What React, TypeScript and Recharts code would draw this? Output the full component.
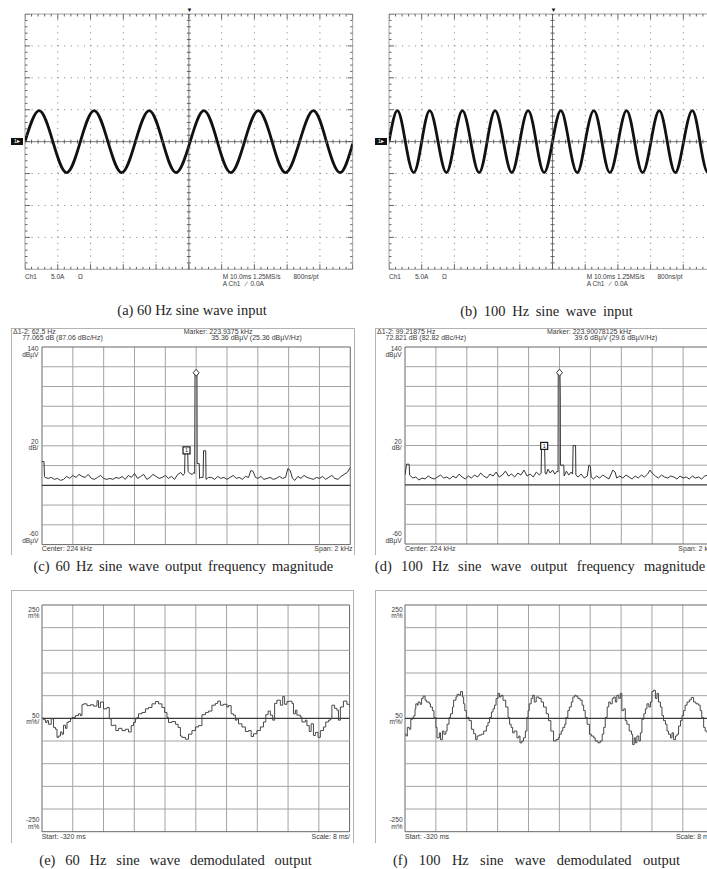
import React from 'react';
import { ComposedChart, Line, XAxis, YAxis, ReferenceLine, ReferenceDot, Scatter } from 'recharts';

type Pt = [number, number];

// ---------- (a) 60 Hz input: [time ms, current A] (peaks / zero crossings)
const scopeA: Pt[] = [
  [-50.0, 0], [-45.7, 4.85], [-41.5, 0], [-37.3, -4.85], [-33.1, 0], [-28.9, 4.85], [-24.7, 0],
  [-20.5, -4.85], [-16.3, 0], [-12.1, 4.85], [-8.0, 0], [-3.9, -4.85], [0.4, 0], [4.6, 4.85],
  [8.7, 0], [12.8, -4.85], [17.0, 0], [21.2, 4.85], [25.4, 0], [29.5, -4.85], [33.8, 0],
  [38.0, 4.85], [42.0, 0], [46.1, -4.85], [50.0, -0.3],
];

// ---------- (b) 100 Hz input
const scopeB: Pt[] = [
  [-50, 0], [-47.45, 4.85], [-45.0, 0], [-42.45, -4.85], [-40.0, 0], [-37.55, 4.85], [-35.0, 0],
  [-32.45, -4.85], [-30.0, 0], [-27.55, 4.85], [-25.0, 0], [-22.45, -4.85], [-20.0, 0], [-17.55, 4.85],
  [-15.0, 0], [-12.45, -4.85], [-10.0, 0], [-7.45, 4.85], [-5.0, 0], [-2.55, -4.85], [0.0, 0],
  [2.55, 4.85], [5.0, 0], [7.55, -4.85], [10.0, 0], [12.65, 4.85], [15.1, 0], [17.55, -4.85],
  [20.1, 0], [22.65, 4.85], [25.1, 0], [27.55, -4.85], [30.1, 0], [32.65, 4.85], [35.1, 0],
  [37.55, -4.85], [40.1, 0], [42.75, 4.85], [45.1, 0], [47.55, -4.85], [50.0, 0],
];

// ---------- (c) spectrum 60 Hz: [kHz, dBuV]
const specC: Pt[] = [
  [223.0, 24], [223.013, 24], [223.016, 9], [223.02, 8], [223.04, 7], [223.06, 8], [223.08, 6],
  [223.1, 7], [223.12, 5], [223.14, 6], [223.16, 9], [223.18, 7], [223.2, 10], [223.22, 8],
  [223.24, 11], [223.26, 9], [223.28, 8], [223.3, 11], [223.32, 7], [223.34, 6], [223.36, 8],
  [223.38, 10], [223.4, 7], [223.42, 6], [223.44, 7], [223.46, 6], [223.48, 8], [223.5, 7],
  [223.52, 9], [223.54, 6], [223.56, 10], [223.58, 8], [223.6, 12], [223.62, 7], [223.64, 9],
  [223.66, 11], [223.68, 6], [223.7, 8], [223.72, 11], [223.74, 9], [223.76, 7], [223.78, 8],
  [223.8, 10], [223.82, 7], [223.84, 9], [223.86, 6], [223.88, 11], [223.9, 13], [223.915, 10],
  [223.925, 12], [223.928, 35.4], [223.945, 35.4], [223.948, 14], [223.96, 12], [223.975, 11],
  [223.985, 13], [223.9905, 12], [223.9925, 112.4], [224.0055, 112.4], [224.0065, 22], [224.02, 22],
  [224.022, 7], [224.03, 8], [224.045, 8], [224.048, 35], [224.062, 35], [224.064, 6], [224.08, 8],
  [224.1, 8], [224.12, 6], [224.14, 9], [224.16, 7], [224.18, 8], [224.2, 6], [224.22, 8],
  [224.24, 10], [224.26, 7], [224.28, 8], [224.3, 6], [224.32, 9], [224.34, 8], [224.355, 15],
  [224.37, 14], [224.385, 8], [224.4, 7], [224.42, 9], [224.44, 6], [224.46, 7], [224.48, 8],
  [224.5, 6], [224.52, 7], [224.54, 9], [224.56, 7], [224.58, 8], [224.595, 17], [224.61, 15],
  [224.625, 7], [224.64, 5], [224.66, 9], [224.68, 7], [224.7, 10], [224.72, 8], [224.74, 7],
  [224.76, 6], [224.78, 8], [224.8, 7], [224.82, 9], [224.84, 6], [224.86, 8], [224.88, 10],
  [224.9, 7], [224.92, 6], [224.94, 9], [224.96, 11], [224.98, 13], [225.0, 18],
];

// ---------- (d) spectrum 100 Hz
const specD: Pt[] = [
  [223.0, 10], [223.01, 21], [223.027, 21], [223.03, 10], [223.05, 7], [223.07, 8], [223.09, 5],
  [223.11, 7], [223.13, 6], [223.15, 9], [223.17, 7], [223.19, 6], [223.21, 8], [223.23, 10],
  [223.25, 7], [223.27, 8], [223.29, 6], [223.31, 9], [223.33, 7], [223.35, 11], [223.37, 8],
  [223.39, 6], [223.41, 9], [223.43, 7], [223.45, 10], [223.47, 8], [223.49, 12], [223.51, 9],
  [223.53, 7], [223.55, 11], [223.57, 9], [223.59, 13], [223.61, 8], [223.63, 10], [223.65, 14],
  [223.67, 9], [223.69, 11], [223.71, 8], [223.73, 12], [223.75, 10], [223.77, 15], [223.79, 9],
  [223.81, 11], [223.83, 8], [223.85, 13], [223.87, 10], [223.881, 12], [223.884, 39.6],
  [223.904, 36], [223.907, 12], [223.915, 11], [223.925, 16], [223.94, 12], [223.955, 15],
  [223.97, 11], [223.985, 14], [223.9905, 13], [223.992, 112.4], [224.003, 112.4], [224.005, 92],
  [224.006, 20], [224.028, 20], [224.03, 9], [224.045, 14], [224.06, 10], [224.075, 13],
  [224.085, 11], [224.088, 40], [224.104, 40], [224.106, 10], [224.12, 8], [224.14, 11],
  [224.16, 7], [224.18, 9], [224.19, 20], [224.2, 19], [224.205, 8], [224.22, 6], [224.24, 9],
  [224.26, 7], [224.28, 10], [224.3, 8], [224.32, 6], [224.345, 15], [224.36, 13], [224.37, 7],
  [224.39, 9], [224.41, 7], [224.43, 10], [224.45, 8], [224.47, 6], [224.49, 9], [224.51, 7],
  [224.53, 10], [224.55, 8], [224.57, 11], [224.585, 15], [224.6, 12], [224.62, 9], [224.64, 7],
  [224.66, 10], [224.68, 8], [224.7, 7], [224.72, 9], [224.74, 8], [224.76, 6], [224.78, 9],
  [224.8, 7], [224.82, 8], [224.84, 6], [224.86, 9], [224.88, 7], [224.9, 8], [224.92, 6],
  [224.94, 9], [224.96, 10], [224.98, 8], [225.0, 11],
];

// ---------- (e) demodulated 60 Hz: [ms, m%]
const demodE: Pt[] = [
  [-320.0, 0], [-319.6, -3], [-319.1, -9], [-318.7, -5], [-318.3, -13], [-317.6, -1], [-317.0, -20],
  [-316.5, -24], [-316.1, -42], [-315.7, -39], [-315.2, -30], [-314.8, -35], [-314.4, -15], [-313.9, -22],
  [-313.5, -9], [-313.1, -7], [-312.6, -1], [-312.2, 2], [-311.3, 6], [-310.5, 10], [-310.0, 6],
  [-309.6, 30], [-309.2, 32], [-308.3, 28], [-307.4, 30], [-306.6, 27], [-305.7, 39], [-305.3, 24],
  [-304.8, 36], [-304.0, 21], [-303.1, 24], [-302.5, -1], [-302.0, -16], [-301.4, -15], [-300.8, -27],
  [-300.1, -22], [-299.2, -27], [-298.3, -24], [-297.5, -30], [-296.8, -16], [-296.2, -9], [-295.7, -1],
  [-295.3, 2], [-294.9, 10], [-294.0, 13], [-293.1, 21], [-292.3, 24], [-291.4, 32], [-290.5, 37],
  [-289.7, 32], [-288.8, 24], [-288.1, 13], [-287.5, 2], [-287.1, -9], [-286.2, -7], [-285.3, -13],
  [-284.6, -20], [-284.0, -39], [-283.6, -42], [-282.7, -46], [-281.9, -35], [-281.0, -27], [-280.1, -19],
  [-279.3, -16], [-278.4, 8], [-277.5, 13], [-276.7, 16], [-275.8, 29], [-274.9, 33], [-274.3, 38],
  [-273.6, 29], [-272.8, 31], [-271.9, 25], [-271.5, 28], [-270.8, 10], [-270.2, 7], [-269.7, -4],
  [-269.3, -1], [-268.9, -12], [-268.0, -19], [-267.1, -29], [-266.3, -27], [-265.6, -40], [-265.0, -34],
  [-264.1, -27], [-263.2, -19], [-262.4, -8], [-261.8, 8], [-261.2, 16], [-260.6, 7], [-260.0, -4],
  [-259.5, 33], [-258.9, 40], [-258.0, 29], [-257.4, 48], [-256.9, 31], [-256.3, 37], [-255.6, 38],
  [-255.0, 33], [-254.6, 10], [-254.1, 18], [-253.7, 7], [-252.8, 3], [-252.4, -8], [-251.5, -4],
  [-251.1, -16], [-250.5, -29], [-250.0, -12], [-249.4, -38], [-248.9, -31], [-248.2, -42], [-247.6, -27],
  [-246.8, -19], [-246.2, -8], [-245.5, -4], [-245.0, -1], [-244.6, 29], [-243.9, 22], [-243.3, 18],
  [-242.9, -4], [-242.4, 25], [-241.6, 38], [-240.7, 31], [-240.0, 25],
];

// ---------- (f) demodulated 100 Hz
const demodF: Pt[] = [
  [-320.0, -35], [-319.7, -39], [-319.4, -20], [-318.9, -24], [-318.5, -2], [-318.0, 2], [-317.7, 6],
  [-317.4, 21], [-317.2, 32], [-316.8, 29], [-316.6, 36], [-316.1, 31], [-315.7, 44], [-315.3, 49],
  [-314.8, 40], [-314.4, 36], [-313.7, 32], [-313.4, 25], [-312.9, 17], [-312.5, 2], [-312.0, -20],
  [-311.7, -43], [-311.1, -32], [-310.8, -47], [-310.3, -28], [-309.9, -35], [-309.4, -28], [-309.1, -13],
  [-308.6, 2], [-308.2, 10], [-307.7, 25], [-307.4, 40], [-306.8, 47], [-306.5, 53], [-306.0, 51],
  [-305.6, 59], [-305.1, 47], [-304.8, 32], [-304.5, 17], [-304.1, 2], [-303.4, -5], [-302.8, -24],
  [-302.2, -34], [-301.7, -47], [-301.3, -39], [-300.8, -37], [-300.2, -35], [-299.6, -28], [-298.9, -17],
  [-298.5, -9], [-298.1, 2], [-297.6, 14], [-297.2, 21], [-296.8, 29], [-296.4, 44], [-295.9, 55],
  [-295.5, 47], [-295.1, 51], [-294.6, 40], [-293.9, 25], [-293.3, 2], [-292.9, -13], [-292.5, -20],
  [-292.1, -32], [-291.7, -28], [-291.0, -43], [-290.5, -39], [-290.2, -54], [-289.7, -50], [-289.3, -43],
  [-288.8, -28], [-288.4, 2], [-288.1, 17], [-287.8, 32], [-287.3, 44], [-286.9, 51], [-286.5, 36],
  [-286.0, 47], [-285.3, 44], [-284.7, 36], [-284.1, 25], [-283.4, 10], [-282.8, -5], [-282.2, -28],
  [-281.5, -50], [-280.9, -47], [-280.3, -43], [-280.0, -35], [-279.5, -28], [-279.1, -20], [-278.6, -13],
  [-278.3, 2], [-277.8, 17], [-277.4, 25], [-276.9, 36], [-276.5, 47], [-276.0, 51], [-275.7, 49],
  [-275.2, 44], [-274.6, 40], [-274.1, 29], [-273.7, 17], [-273.3, 2], [-272.8, -13], [-272.2, -35],
  [-271.7, -39], [-271.1, -43], [-270.7, -50], [-270.0, -54], [-269.4, -50], [-268.9, -35], [-268.5, -20],
  [-268.1, 2], [-267.6, 25], [-267.2, 36], [-266.8, 32], [-266.3, 44], [-265.9, 47], [-265.5, 36],
  [-265.1, 51], [-264.6, 44], [-264.2, 55], [-263.8, 17], [-263.3, 21], [-262.9, -5], [-262.5, -13],
  [-261.9, -28], [-261.3, -35], [-261.0, -58], [-260.6, -43], [-260.3, -54], [-259.9, -39], [-259.4, -50],
  [-259.0, -32], [-258.6, -2], [-258.1, 10], [-257.7, 21], [-257.3, 32], [-256.8, 25], [-256.4, 36],
  [-256.0, 59], [-255.6, 62], [-255.1, 44], [-254.7, 55], [-254.3, 36], [-253.8, 25], [-253.4, 6],
  [-253.0, -5], [-252.5, -13], [-252.1, -28], [-251.7, -35], [-251.2, -43], [-250.8, -32], [-250.4, -47],
  [-249.9, -39], [-249.5, -35], [-249.1, -17], [-248.6, -5], [-248.2, 6], [-247.8, 17], [-247.4, 29],
  [-246.9, 36], [-246.3, 41], [-245.8, 46], [-245.2, 36], [-244.6, 32], [-243.9, 29], [-243.5, 17],
  [-243.1, 2], [-242.6, -20], [-242.2, -28], [-241.7, -32], [-240.9, -40], [-240.0, -44],
];

// ---------- axes / grid divisions
const scopeDivT = [-50, -40, -30, -20, -10, 0, 10, 20, 30, 40, 50];
const scopeDivV = [-20, -15, -10, -5, 0, 5, 10, 15, 20];
const specDivF = [223, 223.2, 223.4, 223.6, 223.8, 224, 224.2, 224.4, 224.6, 224.8, 225];
const specDivDb = [-60, -40, -20, 0, 20, 40, 60, 80, 100, 120, 140];
const demodDivT = [-320, -312, -304, -296, -288, -280, -272, -264, -256, -248, -240];
const demodDivV = [-250, -200, -150, -100, -50, 0, 50, 100, 150, 200, 250];

const scopeMinorT = Array.from({ length: 51 }, (_, i) => -50 + 2 * i);
const scopeMinorV = Array.from({ length: 41 }, (_, i) => -20 + i);

const scopeTicks = [
  ...scopeMinorT.map((t) => ({ x: t, y: 20, k: 'top', m: t % 10 === 0 })),
  ...scopeMinorT.map((t) => ({ x: t, y: -20, k: 'bottom', m: t % 10 === 0 })),
  ...scopeMinorV.map((v) => ({ x: -50, y: v, k: 'left', m: v % 5 === 0 })),
  ...scopeMinorV.map((v) => ({ x: 50, y: v, k: 'right', m: v % 5 === 0 })),
  ...scopeMinorT.map((t) => ({ x: t, y: 0, k: 'ch', m: false })),
  ...scopeMinorV.map((v) => ({ x: 0, y: v, k: 'cv', m: false })),
];

const toXY = (pts: Pt[]) => pts.map(([x, y]) => ({ x, y }));

const SANS = '"Liberation Sans", Arial, sans-serif';
const SERIF = '"Liberation Serif", "Times New Roman", serif';

function T({ x, y, children, size = 7, align = 'left', font = SANS, color = '#3a3a3a', ws = 0 }: any) {
  const style: React.CSSProperties = {
    position: 'absolute',
    top: y - size * 0.55,
    fontSize: size,
    lineHeight: `${size * 1.1}px`,
    fontFamily: font,
    color,
    whiteSpace: 'pre',
    wordSpacing: ws,
  };
  if (align === 'left') style.left = x;
  else if (align === 'right') style.right = 707 - x;
  else {
    style.left = x - 300;
    style.width = 600;
    style.textAlign = 'center';
  }
  return <div style={style}>{children}</div>;
}

function Panel({ left, top, width, height, xDomain, yDomain, elements }: any) {
  const M = 4;
  return (
    <div style={{ position: 'absolute', left: left - M, top: top - M, width: width + 2 * M, height: height + 2 * M }}>
      <ComposedChart width={width + 2 * M} height={height + 2 * M} margin={{ top: M, right: M, bottom: M, left: M }}>
        <XAxis type="number" dataKey="x" domain={xDomain} allowDataOverflow hide />
        <YAxis type="number" dataKey="y" domain={yDomain} allowDataOverflow hide />
        {elements}
      </ComposedChart>
    </div>
  );
}

function tickShape(p: any) {
  const { cx, cy, payload } = p;
  const k = payload.k;
  const L = payload.m ? 5 : 2.5;
  let x1 = cx, y1 = cy, x2 = cx, y2 = cy;
  if (k === 'top') y2 = cy + L;
  else if (k === 'bottom') y2 = cy - L;
  else if (k === 'left') x2 = cx + L;
  else if (k === 'right') x2 = cx - L;
  else if (k === 'ch') { y1 = cy - 2; y2 = cy + 2; }
  else { x1 = cx - 2; x2 = cx + 2; }
  return <line x1={x1} y1={y1} x2={x2} y2={y2} stroke="#555" strokeWidth={0.9} />;
}

function scopeEls(id: string, data: Pt[], dotH: number, dotV: number) {
  const els: React.ReactNode[] = [];
  scopeDivT.forEach((t) => {
    if (t === 0 || t === -50 || t === 50) return;
    els.push(<ReferenceLine key={`${id}gx${t}`} x={t} stroke="#7a7a7a" strokeWidth={1} strokeDasharray={`1 ${dotV - 1}`} ifOverflow="visible" />);
  });
  scopeDivV.forEach((v) => {
    if (v === 0 || v === -20 || v === 20) return;
    els.push(<ReferenceLine key={`${id}gy${v}`} y={v} stroke="#7a7a7a" strokeWidth={1} strokeDasharray={`1 ${dotH - 1}`} ifOverflow="visible" />);
  });
  [-50, 50].forEach((t) => els.push(<ReferenceLine key={`${id}bx${t}`} x={t} stroke="#8a8a8a" strokeWidth={0.8} ifOverflow="visible" />));
  [-20, 20].forEach((v) => els.push(<ReferenceLine key={`${id}by${v}`} y={v} stroke="#8a8a8a" strokeWidth={0.8} ifOverflow="visible" />));
  els.push(<ReferenceLine key={`${id}c0x`} x={0} stroke="#6a6a6a" strokeWidth={0.9} ifOverflow="visible" />);
  els.push(<ReferenceLine key={`${id}c0y`} y={0} stroke="#6a6a6a" strokeWidth={0.9} ifOverflow="visible" />);
  els.push(<Scatter key={`${id}ticks`} data={scopeTicks} dataKey="y" shape={tickShape} isAnimationActive={false} />);
  els.push(
    <Line key={`${id}trace`} data={toXY(data)} dataKey="y" type="natural" stroke="#111" strokeWidth={2.8} dot={false} activeDot={false} isAnimationActive={false} />
  );
  return els;
}

function gridEls(id: string, xs: number[], ys: number[], darkY: number) {
  const els: React.ReactNode[] = [];
  xs.forEach((x, i) => {
    const edge = i === 0 || i === xs.length - 1;
    els.push(<ReferenceLine key={`${id}x${i}`} x={x} stroke={edge ? '#666' : '#a3a3a3'} strokeWidth={1} ifOverflow="visible" />);
  });
  ys.forEach((y, i) => {
    const edge = i === 0 || i === ys.length - 1;
    if (y === darkY) return;
    els.push(<ReferenceLine key={`${id}y${i}`} y={y} stroke={edge ? '#666' : '#a3a3a3'} strokeWidth={1} ifOverflow="visible" />);
  });
  els.push(<ReferenceLine key={`${id}dark`} y={darkY} stroke="#3a3a3a" strokeWidth={1.2} ifOverflow="visible" />);
  return els;
}

const boxMarker = (p: any) => (
  <g>
    <rect x={p.cx - 3.5} y={p.cy - 3.5} width={7} height={7} fill="#fff" stroke="#1a1a1a" strokeWidth={1.2} />
    <text x={p.cx} y={p.cy + 2} fontSize={5.5} textAnchor="middle" fill="#1a1a1a" fontFamily={SANS}>1</text>
  </g>
);

const diamondMarker = (p: any) => {
  const cx = p.cx;
  const c = p.cy - 1.5;
  return (
    <polygon points={`${cx},${c - 3.5} ${cx + 3},${c} ${cx},${c + 3.5} ${cx - 3},${c}`} fill="#fff" stroke="#333" strokeWidth={1} />
  );
};

function specEls(id: string, data: Pt[], markerF: number, markerDb: number) {
  const els = gridEls(id, specDivF, specDivDb, 0);
  els.push(
    <Line key={`${id}trace`} data={toXY(data)} dataKey="y" type="linear" stroke="#333" strokeWidth={1} dot={false} activeDot={false} isAnimationActive={false} />
  );
  els.push(<ReferenceDot key={`${id}mk1`} x={markerF} y={markerDb} r={3} shape={boxMarker} ifOverflow="visible" />);
  els.push(<ReferenceDot key={`${id}mk2`} x={224.0} y={112.4} r={3} shape={diamondMarker} ifOverflow="visible" />);
  return els;
}

function demodEls(id: string, data: Pt[]) {
  const els = gridEls(id, demodDivT, demodDivV, 0);
  els.push(
    <Line key={`${id}trace`} data={toXY(data)} dataKey="y" type="stepAfter" stroke="#474747" strokeWidth={1} dot={false} activeDot={false} isAnimationActive={false} />
  );
  return els;
}

const captions = [
  { t: '(a) 60 Hz sine wave input', x: 192, y: 311, ws: 0 },
  { t: '(b) 100 Hz sine wave input', x: 546.5, y: 311.5, ws: 3 },
  { t: '(c) 60 Hz sine wave output frequency magnitude', x: 183.3, y: 566.7, ws: 2.4 },
  { t: '(d) 100 Hz sine wave output frequency magnitude', x: 540, y: 566.7, ws: 5.6 },
  { t: '(e) 60 Hz sine wave demodulated output', x: 175.5, y: 860.7, ws: 6.2 },
  { t: '(f) 100 Hz sine wave demodulated output', x: 536.5, y: 860.7, ws: 7.7 },
];

function ScopeLabels({ left }: { left: number }) {
  return (
    <>
      <T x={left} y={277} size={6.5}>Ch1</T>
      <T x={left + 26} y={277} size={6.5}>5.0A</T>
      <T x={left + 53} y={277} size={6.5}>Ω</T>
      <T x={left + 197.7} y={277} size={6.5}>M 10.0ms 1.25MS/s</T>
      <T x={left + 268.5} y={277} size={6.5}>800ns/pt</T>
      <T x={left + 197.7} y={284} size={6.5}>{'A Ch1   ∕  0.0A'}</T>
      <div style={{ position: 'absolute', left: left - 14, top: 137.5, width: 12, height: 7, background: '#111', color: '#fff', fontSize: 6, lineHeight: '7px', fontFamily: SANS, textAlign: 'center' }}>1▸</div>
      <div style={{ position: 'absolute', left: left + 161.5, top: 7, fontSize: 6, lineHeight: '6px', color: '#111', fontFamily: SANS }}>▼</div>
    </>
  );
}

function Frame({ left, top, width, height }: any) {
  return (
    <div style={{ position: 'absolute', left, top, width, height, borderLeft: '1px solid #b3b3b3', borderTop: '1px solid #b3b3b3', borderRight: '1px solid #b3b3b3' }} />
  );
}

function SpecLabels({ frameLeft, plotLeft, plotRight, d1, d2, m1, m2 }: any) {
  const ry = plotLeft - 3.3;
  return (
    <>
      <T x={frameLeft + 2} y={332}>{d1}</T>
      <T x={plotLeft - 19.5} y={337.5}>{d2}</T>
      <T x={plotLeft + 142} y={332}>{m1}</T>
      <T x={plotLeft + 169.5} y={337.5}>{m2}</T>
      <T x={ry} y={348.3} size={6.6} align="right">140</T>
      <T x={ry} y={355} size={6.6} align="right">dBµV</T>
      <T x={ry} y={441.5} size={6.6} align="right">20</T>
      <T x={ry} y={448} size={6.6} align="right">dB/</T>
      <T x={ry} y={533.8} size={6.6} align="right">-60</T>
      <T x={ry} y={540.5} size={6.6} align="right">dBµV</T>
      <T x={plotLeft} y={549}>Center: 224 kHz</T>
      <T x={plotRight + 2.5} y={549} align="right">Span: 2 kHz</T>
    </>
  );
}

function DemodLabels({ plotLeft, plotRight }: any) {
  const ry = plotLeft - 2.4;
  return (
    <>
      <T x={ry} y={609.3} size={6.6} align="right">250</T>
      <T x={ry} y={616} size={6.6} align="right">m%</T>
      <T x={ry} y={715.3} size={6.6} align="right">50</T>
      <T x={ry} y={722} size={6.6} align="right">m%/</T>
      <T x={ry} y={819.5} size={6.6} align="right">-250</T>
      <T x={ry} y={826.2} size={6.6} align="right">m%</T>
      <T x={plotLeft} y={836.7}>Start: -320 ms</T>
      <T x={plotRight + 0.7} y={836.7} align="right">Scale: 8 ms/</T>
    </>
  );
}

export default function App() {
  return (
    <div style={{ position: 'absolute', left: 0, top: 0, width: 707, height: 869, overflow: 'hidden', background: '#fff' }}>
      {/* (a) and (b) oscilloscope captures */}
      <Panel left={25} top={14} width={327.7} height={255.3} xDomain={[-50, 50]} yDomain={[-20, 20]} elements={scopeEls('a', scopeA, 6.55, 6.38)} />
      <ScopeLabels left={25} />
      <Panel left={389} top={14} width={327} height={255.3} xDomain={[-50, 50]} yDomain={[-20, 20]} elements={scopeEls('b', scopeB, 6.54, 6.38)} />
      <ScopeLabels left={389} />

      {/* (c) and (d) spectrum */}
      <Frame left={11} top={328} width={342} height={226} />
      <Panel left={41.7} top={346.7} width={308.3} height={197.6} xDomain={[223, 225]} yDomain={[-60, 140]} elements={specEls('c', specC, 223.9375, 35.36)} />
      <SpecLabels frameLeft={11} plotLeft={41.7} plotRight={350} d1="Δ1-2: 62.5 Hz" d2="77.065 dB (87.06 dBc/Hz)" m1="Marker: 223.9375 kHz" m2="35.36 dBµV (25.36 dBµV/Hz)" />

      <Frame left={375} top={328} width={400} height={226} />
      <Panel left={405} top={347.3} width={309} height={197} xDomain={[223, 225]} yDomain={[-60, 140]} elements={specEls('d', specD, 223.90078, 39.6)} />
      <SpecLabels frameLeft={375} plotLeft={405} plotRight={714} d1="Δ1-2: 99.21875 Hz" d2="72.821 dB (82.82 dBc/Hz)" m1="Marker: 223.90078125 kHz" m2="39.6 dBµV (29.6 dBµV/Hz)" />

      {/* (e) and (f) demodulated output */}
      <Frame left={11} top={590} width={341} height={252} />
      <Panel left={41.7} top={605} width={307.6} height={226.7} xDomain={[-320, -240]} yDomain={[-250, 250]} elements={demodEls('e', demodE)} />
      <DemodLabels plotLeft={41.7} plotRight={349.3} />

      <Frame left={375} top={590} width={400} height={252} />
      <Panel left={405} top={605} width={308.7} height={226.7} xDomain={[-320, -240]} yDomain={[-250, 250]} elements={demodEls('f', demodF)} />
      <DemodLabels plotLeft={405} plotRight={713.7} />

      {captions.map((c) => (
        <T key={c.t} x={c.x} y={c.y} size={14.5} align="center" font={SERIF} color="#1e1e1e" ws={c.ws}>{c.t}</T>
      ))}
    </div>
  );
}
